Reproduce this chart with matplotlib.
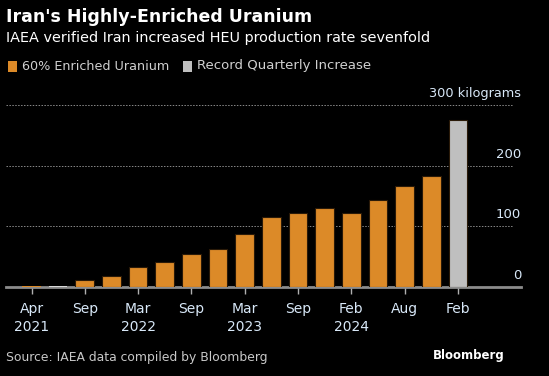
import numpy as np
import matplotlib.pyplot as plt
from matplotlib.patches import Rectangle

# quarterly stockpile of 60% enriched uranium, kg
values = [1.8, 1.5, 11.5, 18, 33.5, 42, 55, 62, 88, 115, 122, 129.5, 121.6, 143, 166, 183, 276]
bar_kind = ['hue'] * 17
bar_kind[1] = 'tiny'
bar_kind[-1] = 'record'
tick_labels = ['Apr\n2021', 'Sep', 'Mar\n2022', 'Sep', 'Mar\n2023', 'Sep', 'Feb\n2024', 'Aug', 'Feb']
y_ticks = [0, 100, 200]

ORANGE = '#DC8A28'
GREY = '#BFBFBF'
colors = {'hue': ORANGE, 'tiny': '#D8D8D8', 'record': GREY}
TXT = '#d8e8f8'

fig = plt.figure(figsize=(5.49, 3.76), dpi=100, facecolor='black')
W, H = 549, 376
ax = fig.add_axes([6 / W, 1 - 287 / H, (521 - 6) / W, (287 - 105) / H])
ax.set_facecolor('black')

x = np.arange(len(values))
edges = ['none' if v < 5 else '#2a1a08' for v in values]
ax.bar(x, values, width=0.7, color=[colors[k] for k in bar_kind],
       edgecolor=edges, linewidth=0.8, zorder=3)

ax.set_xlim(-0.957, 18.37)
ax.set_ylim(0, 300)

for v in [100, 200, 300]:
    ax.axhline(v, xmax=0.984, color='#8a8a8a', linestyle=(0, (1.5, 1.5)), linewidth=0.7, zorder=1)
ax.axhline(0, color='#8c8c8c', linewidth=2, zorder=2, clip_on=False)

for sp in ax.spines.values():
    sp.set_visible(False)

ax.set_xticks(x[::2])
ax.set_xticklabels(tick_labels, color=TXT, fontsize=10, linespacing=1.3)
ax.tick_params(axis='x', length=5, width=1, color='#b0b0b0', pad=6)
ax.set_yticks([])

for v in y_ticks:
    ax.text(1.0, v + 8, str(v), transform=ax.get_yaxis_transform(),
            ha='right', va='bottom', color=TXT, fontsize=9.5)
ax.text(1.0, 309, '300 kilograms', transform=ax.get_yaxis_transform(),
        ha='right', va='bottom', color=TXT, fontsize=9.3)

fig.text(6 / W, 1 - 17 / H, "Iran's Highly-Enriched Uranium", color='white',
         fontsize=12.5, fontweight='bold', va='center', ha='left')
fig.text(6 / W, 1 - 38 / H, 'IAEA verified Iran increased HEU production rate sevenfold',
         color='white', fontsize=10.4, va='center', ha='left')

# legend
fig.patches.append(Rectangle((8 / W, 1 - 72 / H), 9 / W, 11 / H, transform=fig.transFigure,
                             facecolor=ORANGE, edgecolor='none'))
fig.text(22 / W, 1 - 66 / H, '60% Enriched Uranium', color='#d0d0d0', fontsize=9.2,
         va='center', ha='left')
fig.patches.append(Rectangle((183 / W, 1 - 72 / H), 9 / W, 11 / H, transform=fig.transFigure,
                             facecolor=GREY, edgecolor='none'))
fig.text(197 / W, 1 - 66 / H, 'Record Quarterly Increase', color='#d0d0d0', fontsize=9.5,
         va='center', ha='left')

fig.text(6 / W, 1 - 357 / H, 'Source: IAEA data compiled by Bloomberg', color='#c8c8c8',
         fontsize=8.9, va='center', ha='left')
fig.text(505 / W, 1 - 356 / H, 'Bloomberg', color='white', fontsize=8.5,
         fontweight='bold', va='center', ha='right')

fig.savefig('out.png', dpi=100, facecolor='black')
